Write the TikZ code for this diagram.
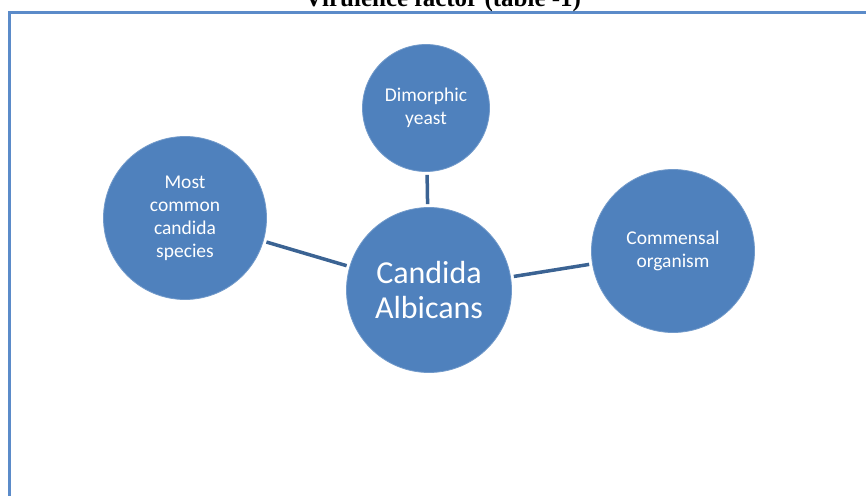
\documentclass[tikz,border=0pt]{standalone}
\usepackage{fontspec}
\setmainfont{Carlito}
\newfontfamily\titlefont{Liberation Serif}
\definecolor{bubble}{HTML}{4F81BD}
\definecolor{spoke}{HTML}{3B6393}
\definecolor{frame}{HTML}{5B8BC9}
\tikzset{
  bubble/.style={circle,fill=bubble,draw=bubble!80!white,line width=0.8pt,inner sep=0pt,
    text=white,align=center,font={\fontsize{19.5}{23}\selectfont}},
  spoke/.style={draw=spoke,line width=3.5pt,shorten <=3pt,shorten >=3pt}
}
\begin{document}
\begin{tikzpicture}[x=1pt,y=-1pt]
\useasboundingbox (0,0) rectangle (866,495);
\clip (0,0) rectangle (866,495);
\draw [frame,line width=3pt] (9,12.5) rectangle (890,520);
\node[anchor=base,font={\titlefont\bfseries\fontsize{25}{28}\selectfont}] (title) at (443,7) {Virulence factor (table -1)};
\node[bubble,minimum size=165pt,font={\fontsize{32}{35}\selectfont}] (C) at (429,290) {Candida\\Albicans};
\node[bubble,minimum size=127pt] (D) at (426,108) {Dimorphic\\yeast};
\node[bubble,minimum size=163pt] (M) at (185,218) {Most\\common\\candida\\species};
\node[bubble,minimum size=163pt] (O) at (673,251) {Commensal\\organism};
\foreach \p in {D,M,O}
	\draw [spoke] (\p) -- (C);
\end{tikzpicture}
\end{document}
